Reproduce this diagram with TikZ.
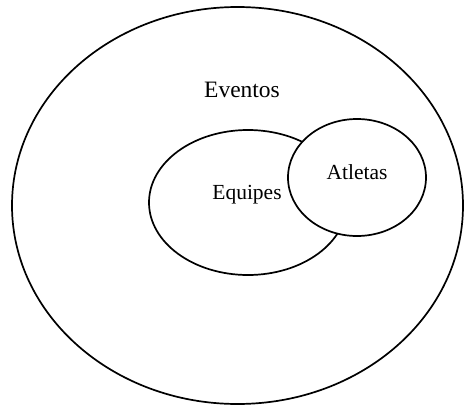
\documentclass[tikz,border=0pt]{standalone}
\usepackage{fontspec}
\setmainfont{Liberation Serif}
\usepackage{tikz}

\begin{document}
\begin{tikzpicture}[x=1pt, y=-1pt, line width=1.7pt,
    every node/.style={font=\fontsize{21.5}{26}\selectfont}]
  % canvas
  \useasboundingbox[fill=white] (0,0) rectangle (464,405);
  % sets
  \draw (237.5,205.5) ellipse [x radius=225.5, y radius=198.5];
  \draw (248,202.5) ellipse [x radius=99, y radius=72.5];
  \draw[fill=white] (357,177.5) ellipse [x radius=69, y radius=58.5];
  % labels
  \node[font=\fontsize{23.5}{28}\selectfont] (eventos) at (242,90) {Eventos};
  \node (equipes) at (247,195) {Equipes};
  \node (atletas) at (357,172) {Atletas};
\end{tikzpicture}
\end{document}
